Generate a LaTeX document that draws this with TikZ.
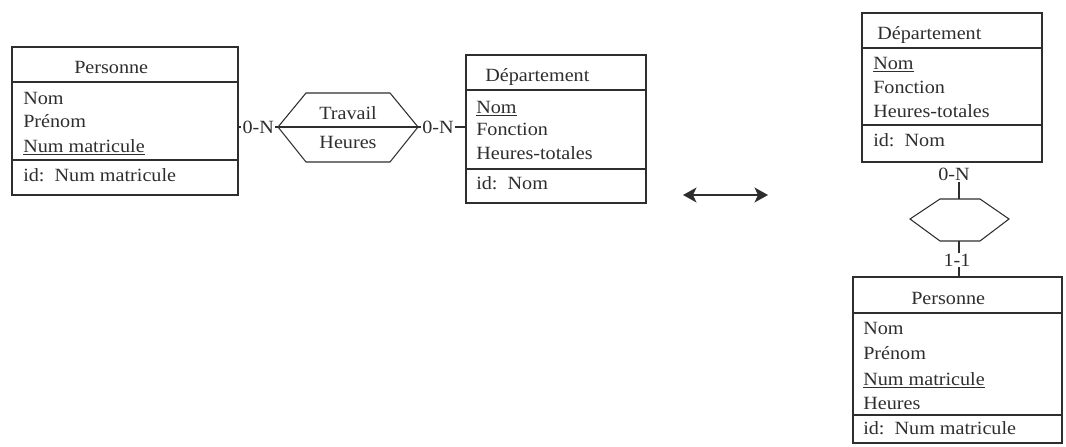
\documentclass[tikz,border=0pt]{standalone}
\usepackage{fontspec}
\setmainfont[FakeStretch=1.08]{Liberation Serif}
\usetikzlibrary{fit,arrows.meta}
\definecolor{ink}{HTML}{2E2E2E}
\begin{document}
\begin{tikzpicture}[x=0.75pt,y=-0.75pt,
  font=\fontsize{14}{16}\selectfont,
  every node/.style={text=ink},
  box/.style={draw=ink, line width=0.8pt, inner sep=0pt},
  sep/.style={draw=ink, line width=0.8pt},
  attr/.style={anchor=base west, inner sep=0pt, yshift=-4.5pt},
  card/.style={fill=white, inner sep=1pt},
  link/.style={draw=ink, line width=0.8pt},
  hexa/.style={draw=ink, line width=0.8pt, line join=miter},
  equiv/.style={draw=ink, line width=2pt, >={Stealth[length=10pt,width=11pt,inset=2.5pt]}, <->}]
\useasboundingbox (0,0) rectangle (1066,446);

% ---------- Personne (left) ----------
\node[box, fit={(12,47)(238,195)}] (lpers) {};
\draw[sep] (lpers.west |- 0,82) -- (lpers.east |- 0,82);
\draw[sep] (lpers.west |- 0,160) -- (lpers.east |- 0,160);
\node[attr] (lp-t) at (74,67) {Personne};
\node[attr] (lp-a1) at (23,98) {Nom};
\node[attr] (lp-a2) at (23,121) {Prénom};
\node[attr] (lp-a3) at (23,146) {\underline{Num matricule}};
\node[attr] (lp-id) at (23,175) {id:\ \ Num matricule};

% ---------- Travail relationship ----------
\coordinate (trL) at (278,127);
\coordinate (trR) at (418,127);
\draw[hexa] (trL) -- (306,93) -- (390,93) -- (trR) -- (390,162) -- (306,162) -- cycle;
\draw[sep] (trL) -- (trR);
\node (tr-name) at (348,113) {Travail};
\node (tr-attr) at (348,142) {Heures};

% ---------- Département (middle) ----------
\node[box, fit={(466,55)(646,203)}] (mdep) {};
\draw[sep] (mdep.west |- 0,90) -- (mdep.east |- 0,90);
\draw[sep] (mdep.west |- 0,169) -- (mdep.east |- 0,169);
\node[attr] (md-t) at (485,75) {Département};
\node[attr] (md-a1) at (476,107) {\underline{Nom}};
\node[attr] (md-a2) at (476,129) {Fonction};
\node[attr] (md-a3) at (476,153) {Heures-totales};
\node[attr] (md-id) at (476,183) {id:\ \ Nom};

% ---------- links of Travail ----------
\draw[link] (lpers.east |- trL) -- (trL)
  node[card, pos=0.5] (c1) {0-N};
\draw[link] (trR) -- (mdep.west |- trR)
  node[card, pos=0.42] (c2) {0-N};

% ---------- equivalence arrow ----------
\coordinate (eqL) at (683,195);
\coordinate (eqR) at (768,195);
\draw[equiv] (eqL) -- (eqR);

% ---------- Département (right) ----------
\node[box, fit={(862,13)(1042,162)}] (rdep) {};
\draw[sep] (rdep.west |- 0,48) -- (rdep.east |- 0,48);
\draw[sep] (rdep.west |- 0,125) -- (rdep.east |- 0,125);
\node[attr] (rd-t) at (877,33) {Département};
\node[attr] (rd-a1) at (873,63) {\underline{Nom}};
\node[attr] (rd-a2) at (873,87) {Fonction};
\node[attr] (rd-a3) at (873,111) {Heures-totales};
\node[attr] (rd-id) at (873,140) {id:\ \ Nom};

% ---------- anonymous relationship ----------
\coordinate (rrT) at (959,199);
\coordinate (rrB) at (959,241);
\draw[hexa] (910,219) -- (940,199) -- (980,199) -- (1009,219) -- (980,241) -- (940,241) -- cycle;

% ---------- Personne (right) ----------
\node[box, fit={(853,277)(1062,443)}] (rpers) {};
\draw[sep] (rpers.west |- 0,313) -- (rpers.east |- 0,313);
\draw[sep] (rpers.west |- 0,415) -- (rpers.east |- 0,415);
\node[attr] (rp-t) at (911,298) {Personne};
\node[attr] (rp-a1) at (863,328) {Nom};
\node[attr] (rp-a2) at (863,353) {Prénom};
\node[attr] (rp-a3) at (863,379) {\underline{Num matricule}};
\node[attr] (rp-a4) at (863,403) {Heures};
\node[attr] (rp-id) at (863,428) {id:\ \ Num matricule};

% ---------- links of the anonymous relationship ----------
\node[card] (c3) at (954,174) {0-N};
\draw[link] (rrT |- c3.south) -- (rrT);
\draw[link] (rrB) -- (rrB |- rpers.north);
\node[card] (c4) at (957,260) {1-1};
\end{tikzpicture}
\end{document}
